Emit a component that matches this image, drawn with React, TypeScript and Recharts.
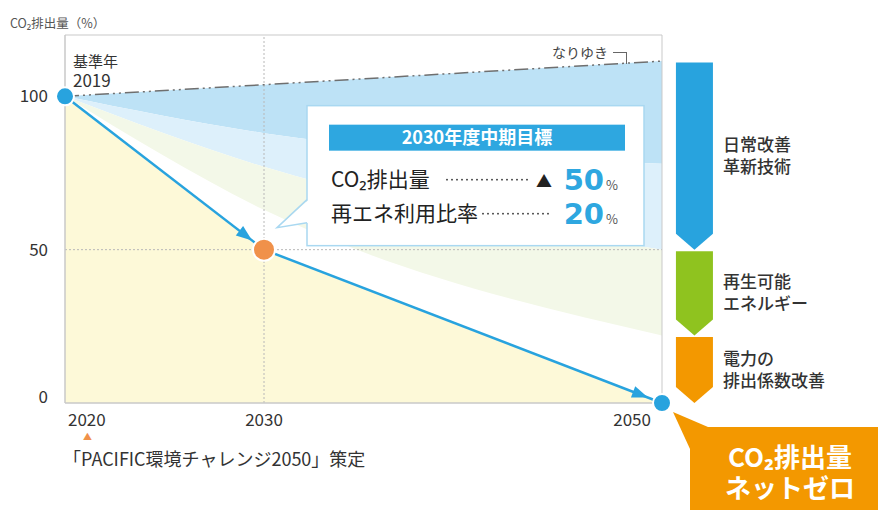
import {
  ComposedChart,
  Area,
  Line,
  XAxis,
  YAxis,
  ReferenceLine,
  ReferenceArea,
  ReferenceDot,
} from 'recharts';

// x positions of the three milestones (基準年2019 sits on the axis origin)
const years = [2020, 2030, 2050];
const pathValues = [100, 50, 0]; // 削減目標ライン
const trendValues = [100, 103.8, 111.5]; // なりゆき
const band1Low = [100, 88, 78];
const band2Low = [100, 77, 50];
const band3Low = [100, 63, 22];

const yTicks = [0, 50, 100];
const xTicks = [2020, 2030, 2050];

const stepTops = [111.5, 50, 22];
const stepBottoms = [50, 22, 0];
const stepLabels = [
  ['日常改善', '革新技術'],
  ['再生可能', 'エネルギー'],
  ['電力の', '排出係数改善'],
];

const FONT = "'Noto Sans CJK JP', 'Noto Sans', sans-serif";
const BLUE = '#28a3de';
const ORANGE_DOT = '#f0914a';
const ORANGE = '#f39800';
const STEP_COLORS = [BLUE, '#8fc31f', ORANGE];
const DOT_COLORS = [BLUE, ORANGE_DOT, BLUE];
const DOT_R = [9, 11, 9];
const FRAME = '#c9c9c9';
const GRID = '#b8b8b8';

const data = years.map((year, i) => ({
  year,
  path: pathValues[i],
  seg1: i <= 1 ? pathValues[i] : null,
  seg2: i >= 1 ? pathValues[i] : null,
  trend: trendValues[i],
  band1: [band1Low[i], trendValues[i]],
  band2: [band2Low[i], band1Low[i]],
  band3: [band3Low[i], band2Low[i]],
}));

const renderYTick = ({ x, y, payload }: any) => (
  <text
    x={x}
    y={y + (payload.value === 0 ? -6 : 0)}
    dy={6}
    textAnchor="end"
    fontSize={17}
    fill="#333"
    fontFamily={FONT}
  >
    {payload.value}
  </text>
);

const renderXTick = ({ x, y, payload }: any) => {
  const v = payload.value;
  const anchor = v === xTicks[0] ? 'start' : v === xTicks[2] ? 'end' : 'middle';
  const dx = v === xTicks[0] ? 3 : v === xTicks[2] ? -11 : 0;
  return (
    <text x={x + dx} y={y + 23} textAnchor={anchor} fontSize={17} fill="#333" fontFamily={FONT}>
      {v}
    </text>
  );
};

const renderDot = ({ cx, cy, index }: any) => (
  <circle
    key={`dot-${index}`}
    cx={cx}
    cy={cy}
    r={DOT_R[index]}
    fill={DOT_COLORS[index]}
    stroke="#fff"
    strokeWidth={2}
  />
);

function StepArrow({ x, y, width, height, color, lines }: any) {
  const top = y + 1.5;
  const bottom = y + height;
  const side = bottom - 16;
  const mid = (top + bottom) / 2;
  const tx = x + width + 10;
  return (
    <g>
      <polygon
        points={`${x},${top} ${x + width},${top} ${x + width},${side} ${x + width / 2},${bottom} ${x},${side}`}
        fill={color}
      />
      <text x={tx} y={mid - 11 + 6} fontSize={17} fontWeight={500} fill="#333" fontFamily={FONT}>
        {lines.map((t: string, i: number) => (
          <tspan key={t} x={tx} dy={i === 0 ? 0 : 22}>
            {t}
          </tspan>
        ))}
      </text>
    </g>
  );
}

function Callout({ cx, cy }: any) {
  const L = cx + 43;
  const T = cy - 144;
  const border = '#a9d8f1';
  return (
    <g fontFamily={FONT}>
      <rect x={L} y={T} width={337} height={140} fill="#fff" stroke={border} strokeWidth={1.5} />
      <polygon points={`${L + 1.5},${cy - 50} ${cx + 13},${cy - 22} ${L + 1.5},${cy - 27}`} fill="#fff" />
      <polyline
        points={`${L},${cy - 50} ${cx + 13},${cy - 22} ${L},${cy - 27}`}
        fill="none"
        stroke={border}
        strokeWidth={1.5}
      />
      <rect x={cx + 65} y={cy - 125} width={296} height={26} fill="#2ea7e0" />
      <text x={cx + 213} y={cy - 106} textAnchor="middle" fill="#fff" fontSize={18} fontWeight={700}>
        2030年度中期目標
      </text>

      <text x={cx + 67} y={cy - 63} fontSize={21} fill="#222">
        CO₂排出量
      </text>
      <line
        x1={cx + 183}
        x2={cx + 268}
        y1={cy - 70}
        y2={cy - 70}
        stroke="#333"
        strokeWidth={1.8}
        strokeDasharray="0 5"
        strokeLinecap="round"
      />
      <text x={cx + 280} y={cy - 63} textAnchor="middle" fontSize={16} fill="#222">
        ▲
      </text>
      <text
        x={cx + 340}
        y={cy - 60}
        textAnchor="end"
        fontSize={29}
        fontWeight={700}
        fill="#2ea7e0"
        fontFamily="'DejaVu Sans', sans-serif"
      >
        50
      </text>
      <text x={cx + 342} y={cy - 60} fontSize={13} fill="#555">
        %
      </text>

      <text x={cx + 67} y={cy - 29} fontSize={21} fill="#222">
        再エネ利用比率
      </text>
      <line
        x1={cx + 219}
        x2={cx + 288}
        y1={cy - 36}
        y2={cy - 36}
        stroke="#333"
        strokeWidth={1.8}
        strokeDasharray="0 5"
        strokeLinecap="round"
      />
      <text
        x={cx + 340}
        y={cy - 26}
        textAnchor="end"
        fontSize={29}
        fontWeight={700}
        fill="#2ea7e0"
        fontFamily="'DejaVu Sans', sans-serif"
      >
        20
      </text>
      <text x={cx + 342} y={cy - 26} fontSize={13} fill="#555">
        %
      </text>
    </g>
  );
}

function NetZero({ cx, cy }: any) {
  const tx = cx + 128;
  return (
    <g fontFamily={FONT}>
      <polygon points={`${cx + 11},${cy + 9} ${cx + 46},${cy + 24} ${cx + 28},${cy + 46}`} fill={ORANGE} />
      <rect x={cx + 28} y={cy + 24} width={260} height={120} fill={ORANGE} />
      <text x={tx} y={cy + 64} textAnchor="middle" fontSize={26} fontWeight={700} fill="#fff">
        <tspan x={tx}>CO₂排出量</tspan>
        <tspan x={tx} dy={31}>
          ネットゼロ
        </tspan>
      </text>
    </g>
  );
}

export default function App() {
  return (
    <div
      style={{
        position: 'absolute',
        left: 0,
        top: 0,
        width: 878,
        height: 510,
        background: '#fff',
        fontFamily: FONT,
        color: '#333',
        overflow: 'hidden',
      }}
    >
      <ComposedChart
        width={878}
        height={510}
        data={data}
        margin={{ top: 35, right: 216, bottom: 77, left: 0 }}
      >
        <defs>
          <marker
            id="arrowHead"
            markerUnits="userSpaceOnUse"
            markerWidth={16}
            markerHeight={12}
            viewBox="0 0 16 12"
            refX={31}
            refY={6}
            orient="auto"
            overflow="visible"
          >
            <path d="M0,0 L16,6 L0,12 Z" fill={BLUE} />
          </marker>
        </defs>
        <XAxis
          dataKey="year"
          type="number"
          domain={[2020, 2050]}
          ticks={xTicks}
          height={30}
          tickSize={0}
          tickMargin={0}
          axisLine={false}
          tickLine={false}
          tick={renderXTick}
        />
        <YAxis
          domain={[0, 120]}
          ticks={yTicks}
          width={65}
          tickSize={0}
          tickMargin={17}
          axisLine={false}
          tickLine={false}
          tick={renderYTick}
        />
        <Area dataKey="band1" type="monotone" fill="#bde2f6" fillOpacity={1} stroke="none" activeDot={false} isAnimationActive={false} />
        <Area dataKey="band2" type="monotone" fill="#ddf0fb" fillOpacity={1} stroke="none" activeDot={false} isAnimationActive={false} />
        <Area dataKey="band3" type="monotone" fill="#f3f8e8" fillOpacity={1} stroke="none" activeDot={false} isAnimationActive={false} />
        <Area dataKey="path" type="linear" fill="#fdf9d8" fillOpacity={1} stroke="none" activeDot={false} isAnimationActive={false} />

        <ReferenceLine x={xTicks[1]} stroke={GRID} strokeDasharray="2 2" />
        <ReferenceLine y={yTicks[1]} stroke={GRID} strokeDasharray="2 2" />
        <ReferenceLine y={120} stroke={FRAME} />
        <ReferenceLine x={xTicks[2]} stroke={FRAME} />
        <ReferenceLine x={xTicks[0]} stroke={FRAME} strokeWidth={1.5} />
        <ReferenceLine y={0} stroke={FRAME} strokeWidth={1.5} />

        <Line dataKey="trend" type="linear" stroke="#6f6f6f" strokeWidth={1.5} strokeDasharray="14 4 2 4 2 4" dot={false} activeDot={false} isAnimationActive={false} />
        <Line dataKey="seg1" type="linear" stroke={BLUE} strokeWidth={2.5} markerEnd="url(#arrowHead)" dot={false} activeDot={false} isAnimationActive={false} />
        <Line dataKey="seg2" type="linear" stroke={BLUE} strokeWidth={2.5} markerEnd="url(#arrowHead)" dot={false} activeDot={false} isAnimationActive={false} />
        <Line dataKey="path" type="linear" stroke="none" dot={renderDot} activeDot={false} isAnimationActive={false} />

        {stepTops.map((top, i) => (
          <ReferenceArea
            key={i}
            x1={2050.7}
            x2={2052.56}
            y1={stepBottoms[i]}
            y2={top}
            ifOverflow="visible"
            shape={(p: any) => <StepArrow {...p} color={STEP_COLORS[i]} lines={stepLabels[i]} />}
          />
        ))}

        <ReferenceDot x={years[1]} y={pathValues[1]} ifOverflow="visible" shape={(p: any) => <Callout {...p} />} />
        <ReferenceDot x={years[2]} y={pathValues[2]} ifOverflow="visible" shape={(p: any) => <NetZero {...p} />} />
      </ComposedChart>

      <div style={{ position: 'absolute', left: 10, top: 14, fontSize: 12.5, lineHeight: '18px', color: '#555' }}>
        CO₂排出量（%）
      </div>
      <div style={{ position: 'absolute', left: 73, top: 51, lineHeight: '19px', color: '#333' }}>
        <span style={{ fontSize: 15 }}>基準年</span>
        <br />
        <span style={{ fontSize: 17 }}>2019</span>
      </div>
      <div style={{ position: 'absolute', left: 552, top: 42, fontSize: 14, lineHeight: '20px', color: '#444' }}>
        なりゆき
      </div>
      <div
        style={{
          position: 'absolute',
          left: 613,
          top: 52,
          width: 13,
          height: 11,
          borderTop: '1px solid #666',
          borderRight: '1px solid #666',
        }}
      />
      <div
        style={{
          position: 'absolute',
          left: 83,
          top: 431,
          fontSize: 9,
          lineHeight: '12px',
          color: ORANGE_DOT,
        }}
      >
        ▲
      </div>
      <div style={{ position: 'absolute', left: 63, top: 446, fontSize: 18, lineHeight: '24px', color: '#333' }}>
        「PACIFIC環境チャレンジ2050」策定
      </div>
    </div>
  );
}
